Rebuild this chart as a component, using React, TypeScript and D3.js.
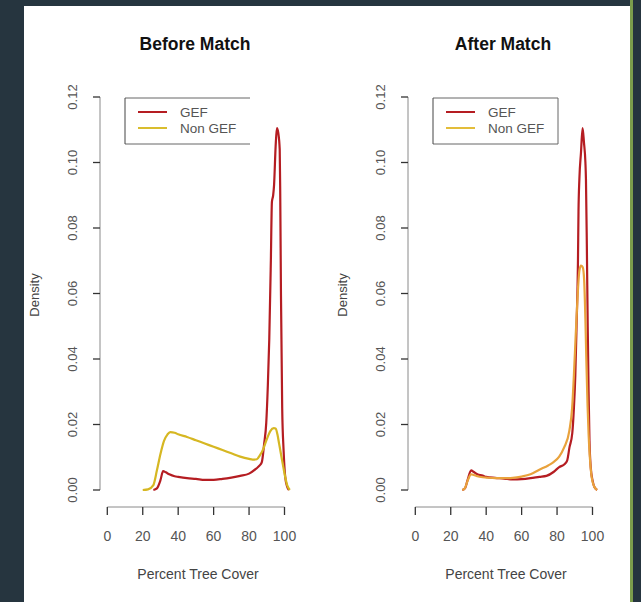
import React from "react";
import * as d3 from "d3";

// ---- data ----
const panelTitles = ["Before Match", "After Match"];
const seriesNames = ["GEF", "Non GEF"];
const xTicks = [0, 20, 40, 60, 80, 100];
const yTicks = [0, 0.02, 0.04, 0.06, 0.08, 0.1, 0.12];
const yTickLabels = ["0.00", "0.02", "0.04", "0.06", "0.08", "0.10", "0.12"];
const xLabel = "Percent Tree Cover";
const yLabel = "Density";

// Before match – GEF
const beforeGefX = [26, 28, 30, 31.5, 33, 35, 38, 40, 45, 50, 55, 60, 65, 70, 75, 80, 84, 86, 87.2, 88.5, 89.7, 90.6, 91.4, 92.3, 92.9, 93.6, 94.1, 95, 95.7, 96.5, 97.3, 97.6, 98, 98.7, 99.5, 100.4, 101.5, 102.5];
const beforeGefY = [0, 0.0005, 0.003, 0.0058, 0.0054, 0.0048, 0.0042, 0.004, 0.0036, 0.0034, 0.0031, 0.0031, 0.0034, 0.0038, 0.0043, 0.005, 0.0065, 0.0075, 0.0085, 0.014, 0.0205, 0.032, 0.046, 0.07, 0.088, 0.09, 0.093, 0.105, 0.1105, 0.109, 0.104, 0.09, 0.06, 0.025, 0.012, 0.004, 0.001, 0];
// Before match – Non GEF
const beforeNonX = [20, 23, 26, 28, 30, 32, 34, 35.5, 38, 40, 45, 50, 55, 60, 65, 70, 75, 80, 82, 84.4, 86, 88, 90, 92, 94, 95, 96, 97, 98, 99, 100.4, 101.5, 103];
const beforeNonY = [0, 0.0002, 0.0015, 0.006, 0.011, 0.015, 0.017, 0.0177, 0.0175, 0.017, 0.0162, 0.0152, 0.0142, 0.0132, 0.0122, 0.0112, 0.0102, 0.0095, 0.0093, 0.0094, 0.0105, 0.0125, 0.0155, 0.018, 0.0189, 0.0188, 0.017, 0.014, 0.011, 0.008, 0.004, 0.0015, 0];
// After match – GEF
const afterGefX = [26.5, 28, 29.5, 31.5, 33, 35, 38, 40, 45, 50, 55, 60, 65, 70, 74, 78, 81.2, 84, 85.7, 87, 88.6, 89.5, 90.3, 91, 91.8, 92.1, 92.6, 93.5, 94.4, 95.2, 96, 96.3, 96.8, 97.3, 97.8, 98.3, 99, 100, 101, 102.6];
const afterGefY = [0, 0.0005, 0.003, 0.006, 0.0055, 0.0048, 0.0044, 0.004, 0.0037, 0.0035, 0.0032, 0.0033, 0.0036, 0.004, 0.0043, 0.0055, 0.007, 0.0078, 0.009, 0.013, 0.0174, 0.025, 0.035, 0.05, 0.07, 0.085, 0.095, 0.103, 0.1105, 0.106, 0.1, 0.095, 0.075, 0.05, 0.03, 0.015, 0.007, 0.003, 0.001, 0];
// After match – Non GEF
const afterNonX = [26.5, 28, 29.5, 31.5, 33, 35, 38, 40, 45, 50, 55, 60, 65, 70, 75, 78, 81.2, 84, 86.9, 88.5, 89.5, 90.5, 91.3, 92, 92.6, 93.5, 94.5, 95.3, 96, 96.6, 97.2, 97.8, 98.5, 99.5, 101, 102.6];
const afterNonY = [0, 0.0006, 0.0028, 0.0048, 0.0046, 0.0042, 0.0039, 0.0038, 0.0036, 0.0036, 0.0037, 0.0041, 0.0048, 0.0062, 0.0075, 0.0085, 0.0102, 0.013, 0.018, 0.025, 0.035, 0.047, 0.056, 0.063, 0.067, 0.0685, 0.068, 0.064, 0.052, 0.038, 0.026, 0.017, 0.01, 0.004, 0.001, 0];

const gefColor = "#b51d22";
const nonColors = ["#d6b722", "#e9a23c"];
const nonLegendColors = ["#d9bd2e", "#e3bd3a"];

const FONT = "'Liberation Sans', Arial, Helvetica, sans-serif";

type PanelProps = {
  ox: number;
  title: string;
  gef: [number[], number[]];
  non: [number[], number[]];
  nonColor: string;
  nonLegendColor: string;
  legendRightBorder: boolean;
};

function Panel({ ox, title, gef, non, nonColor, nonLegendColor, legendRightBorder }: PanelProps) {
  const x = d3.scaleLinear().domain([0, 100]).range([ox + 107.3, ox + 284.5]);
  const y = d3.scaleLinear().domain([0, 0.12]).range([490, 97]);
  const axisX = ox + 100;
  const line = d3
    .line<[number, number]>()
    .x((d) => x(d[0]))
    .y((d) => y(d[1]))
    .curve(d3.curveMonotoneX);
  const gefPts = gef[0].map((v, i) => [v, gef[1][i]] as [number, number]);
  const nonPts = non[0].map((v, i) => [v, non[1][i]] as [number, number]);
  const xAxisY = 507;
  const lgX = ox + 125;
  const lgW = 125;
  const lgTop = 98;
  const lgBot = 144;
  return (
    <g fontFamily={FONT}>
      <text x={ox + 195} y={50} textAnchor="middle" fontWeight="bold" fontSize={17.5} fill="#111">
        {title}
      </text>
      {/* y axis */}
      <line x1={axisX} x2={axisX} y1={y(0)} y2={y(0.12)} stroke="#8a8a8a" strokeWidth={1} />
      {yTicks.map((t, i) => (
        <g key={"yt" + i}>
          <line x1={axisX - 7} x2={axisX} y1={y(t)} y2={y(t)} stroke="#333" strokeWidth={1.3} />
          <text
            transform={`translate(${ox + 77},${y(t)}) rotate(-90)`}
            textAnchor="middle"
            fontSize={13}
            fill="#555"
          >
            {yTickLabels[i]}
          </text>
        </g>
      ))}
      {/* x axis */}
      <line x1={x(0)} x2={x(100)} y1={xAxisY} y2={xAxisY} stroke="#8a8a8a" strokeWidth={1} />
      {xTicks.map((t, i) => (
        <g key={"xt" + i}>
          <line x1={x(t)} x2={x(t)} y1={xAxisY} y2={xAxisY + 8} stroke="#333" strokeWidth={1.3} />
          <text x={x(t)} y={541} textAnchor="middle" fontSize={14} fill="#555">
            {t}
          </text>
        </g>
      ))}
      <text x={ox + 198} y={579} textAnchor="middle" fontSize={14} fill="#444">
        {xLabel}
      </text>
      <text
        transform={`translate(${ox + 39},${295}) rotate(-90)`}
        textAnchor="middle"
        fontSize={13}
        fill="#444"
      >
        {yLabel}
      </text>
      {/* curves */}
      <path d={line(gefPts) || ""} fill="none" stroke={gefColor} strokeWidth={2.2} strokeLinejoin="round" />
      <path d={line(nonPts) || ""} fill="none" stroke={nonColor} strokeWidth={2.2} strokeLinejoin="round" />
      {/* legend */}
      <g>
        <line x1={lgX} x2={lgX + lgW} y1={lgTop} y2={lgTop} stroke="#666" />
        <line x1={lgX} x2={lgX + lgW} y1={lgBot} y2={lgBot} stroke="#666" />
        <line x1={lgX} x2={lgX} y1={lgTop} y2={lgBot} stroke="#444" />
        {legendRightBorder && <line x1={lgX + lgW} x2={lgX + lgW} y1={lgTop} y2={lgBot} stroke="#666" />}
        {seriesNames.map((s, i) => (
          <g key={s}>
            <line
              x1={lgX + 13}
              x2={lgX + 42}
              y1={112 + i * 16}
              y2={112 + i * 16}
              stroke={i === 0 ? gefColor : nonLegendColor}
              strokeWidth={2}
            />
            <text x={lgX + 55} y={117 + i * 16} fontSize={13.5} fill="#555">
              {s}
            </text>
          </g>
        ))}
      </g>
    </g>
  );
}

export default function App() {
  return (
    <svg
      width={641}
      height={602}
      style={{ position: "absolute", left: 0, top: 0, display: "block" }}
    >
      <rect x={0} y={0} width={641} height={602} fill="#26353f" />
      <rect x={24} y={6} width={606} height={596} fill="#ffffff" />
      <rect x={630} y={0} width={3} height={602} fill="#7c9e4c" />
      <Panel
        ox={0}
        title={panelTitles[0]}
        gef={[beforeGefX, beforeGefY]}
        non={[beforeNonX, beforeNonY]}
        nonColor={nonColors[0]}
        nonLegendColor={nonLegendColors[0]}
        legendRightBorder={false}
      />
      <Panel
        ox={308}
        title={panelTitles[1]}
        gef={[afterGefX, afterGefY]}
        non={[afterNonX, afterNonY]}
        nonColor={nonColors[1]}
        nonLegendColor={nonLegendColors[1]}
        legendRightBorder={true}
      />
    </svg>
  );
}
